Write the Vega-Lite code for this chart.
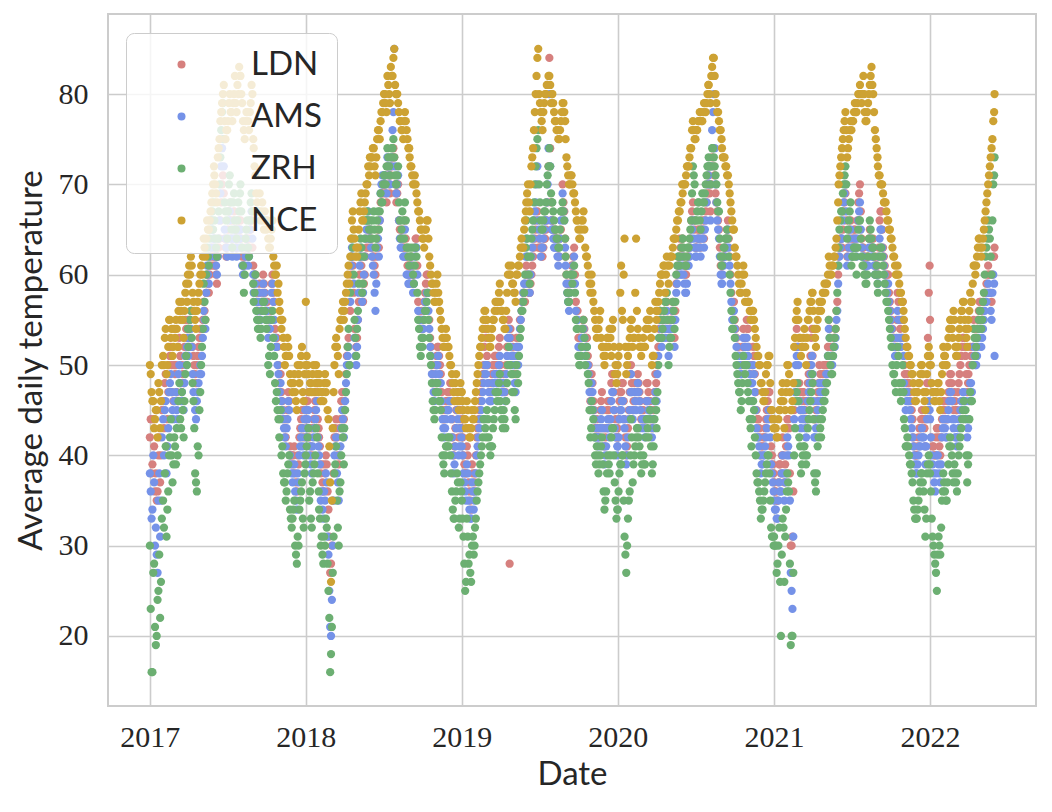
{
  "$schema": "https://vega.github.io/schema/vega-lite/v6.json",
  "width": 928,
  "height": 692,
  "autosize": {"type": "none"},
  "padding": {"left": 108, "top": 14, "right": 16, "bottom": 106},
  "config": {
    "view": {"stroke": "#cccccc", "strokeWidth": 2},
    "axis": {
      "grid": true,
      "gridColor": "#cccccc",
      "gridWidth": 1.6,
      "domain": false,
      "ticks": false,
      "labelFont": "Liberation Serif",
      "labelFontSize": 30,
      "labelColor": "#262626",
      "titleFont": "Lato",
      "titleFontSize": 33,
      "titleFontWeight": "normal",
      "titleColor": "#262626"
    }
  },
  "data": {
    "values": "d,LDN,AMS,ZRH,NCE\n2017-01-01,42,38,30,50\n2017-01-05,38,33,16,47\n2017-01-09,44,40,27,46\n2017-01-13,36,30,21,44\n2017-01-17,35,29,20,45\n2017-01-21,40,35,25,48\n2017-01-25,37,31,22,43\n2017-01-29,45,42,33,50\n2017-02-01,46,44,35,51\n2017-02-05,48,45,38,53\n2017-02-09,41,38,31,49\n2017-02-13,47,43,36,52\n2017-02-17,51,48,42,55\n2017-02-21,50,47,40,54\n2017-02-25,46,44,39,52\n2017-03-01,49,46,41,53\n2017-03-05,47,45,43,54\n2017-03-09,52,49,46,56\n2017-03-13,51,48,44,55\n2017-03-17,50,47,47,57\n2017-03-21,48,45,42,53\n2017-03-25,55,51,49,58\n2017-03-29,53,52,50,57\n2017-04-01,54,51,52,59\n2017-04-05,55,53,55,60\n2017-04-09,56,52,53,61\n2017-04-13,51,47,46,57\n2017-04-17,49,45,38,55\n2017-04-21,50,46,36,56\n2017-04-25,52,48,40,58\n2017-04-29,54,50,47,60\n2017-05-01,53,49,50,61\n2017-05-05,55,53,54,62\n2017-05-09,56,55,57,63\n2017-05-13,58,58,60,64\n2017-05-17,59,60,62,65\n2017-05-21,60,62,64,66\n2017-05-25,62,66,66,68\n2017-05-29,61,64,65,70\n2017-06-01,62,63,66,71\n2017-06-05,60,61,63,69\n2017-06-09,62,62,64,73\n2017-06-13,64,66,70,75\n2017-06-17,68,72,76,78\n2017-06-21,71,75,79,80\n2017-06-25,64,65,68,77\n2017-06-29,62,63,66,76\n2017-07-01,63,62,64,76\n2017-07-05,67,66,70,79\n2017-07-09,66,64,68,78\n2017-07-13,63,62,63,77\n2017-07-17,67,65,69,80\n2017-07-21,64,63,65,79\n2017-07-25,65,64,66,81\n2017-07-29,64,63,67,83\n2017-08-01,66,65,70,82\n2017-08-05,62,61,63,79\n2017-08-09,61,60,58,76\n2017-08-13,63,62,64,77\n2017-08-17,64,63,66,78\n2017-08-21,63,62,62,76\n2017-08-25,65,66,68,79\n2017-08-29,63,64,67,80\n2017-09-01,59,58,57,74\n2017-09-05,60,59,60,71\n2017-09-09,57,56,55,68\n2017-09-13,58,57,54,67\n2017-09-17,56,55,53,66\n2017-09-21,58,57,56,68\n2017-09-25,59,58,57,65\n2017-09-29,57,56,55,66\n2017-10-01,56,55,54,65\n2017-10-05,54,53,50,64\n2017-10-09,55,54,49,63\n2017-10-13,59,58,55,65\n2017-10-17,58,57,53,62\n2017-10-21,54,53,48,60\n2017-10-25,53,52,47,61\n2017-10-29,50,49,44,59\n2017-11-01,48,47,44,56\n2017-11-05,47,46,40,54\n2017-11-09,45,44,38,53\n2017-11-13,43,42,37,50\n2017-11-17,44,43,36,51\n2017-11-21,47,46,39,52\n2017-11-25,41,40,34,49\n2017-11-29,40,38,32,48\n2017-12-01,39,37,33,47\n2017-12-05,41,39,35,49\n2017-12-09,37,35,29,46\n2017-12-13,40,38,31,50\n2017-12-17,42,40,34,48\n2017-12-21,44,42,36,51\n2017-12-25,43,41,33,47\n2017-12-29,45,44,38,49\n2018-01-01,44,42,40,57\n2018-01-05,46,44,42,50\n2018-01-09,42,40,35,47\n2018-01-13,41,39,33,48\n2018-01-17,43,41,37,49\n2018-01-21,45,43,39,47\n2018-01-25,47,45,43,50\n2018-01-29,44,42,38,48\n2018-02-01,42,40,34,49\n2018-02-05,38,35,30,46\n2018-02-09,37,34,29,47\n2018-02-13,39,36,31,48\n2018-02-17,40,38,33,47\n2018-02-21,36,31,28,45\n2018-02-25,31,25,22,41\n2018-02-27,27,21,16,37\n2018-03-01,28,20,18,26\n2018-03-05,35,30,27,43\n2018-03-09,42,40,38,50\n2018-03-13,44,42,41,53\n2018-03-17,40,37,32,51\n2018-03-21,43,40,36,54\n2018-03-25,46,43,40,55\n2018-03-29,45,44,42,57\n2018-04-01,46,45,43,56\n2018-04-05,49,48,47,58\n2018-04-09,52,51,52,60\n2018-04-13,50,50,50,59\n2018-04-17,60,61,62,64\n2018-04-21,61,62,63,67\n2018-04-25,54,53,55,64\n2018-04-29,52,50,51,63\n2018-05-01,53,52,54,62\n2018-05-05,57,58,59,65\n2018-05-09,62,63,64,68\n2018-05-13,58,57,58,66\n2018-05-17,59,60,62,67\n2018-05-21,62,64,66,69\n2018-05-25,64,66,67,70\n2018-05-29,63,64,65,71\n2018-06-01,65,64,66,72\n2018-06-05,63,62,64,73\n2018-06-09,62,60,67,74\n2018-06-13,60,56,63,71\n2018-06-17,64,63,66,75\n2018-06-21,63,62,65,76\n2018-06-25,68,69,69,77\n2018-06-29,70,71,68,78\n2018-07-01,69,70,70,79\n2018-07-05,70,71,71,80\n2018-07-09,68,69,72,78\n2018-07-13,71,72,73,81\n2018-07-17,69,70,71,79\n2018-07-21,72,73,74,82\n2018-07-25,74,78,75,84\n2018-07-27,73,85,73,85\n2018-07-29,70,72,71,81\n2018-08-01,68,69,70,80\n2018-08-05,70,71,72,79\n2018-08-09,65,64,66,77\n2018-08-13,64,63,65,76\n2018-08-17,63,62,66,75\n2018-08-21,66,65,68,78\n2018-08-25,62,60,63,76\n2018-08-29,61,59,62,74\n2018-09-01,60,59,63,73\n2018-09-05,62,61,62,72\n2018-09-09,59,58,60,70\n2018-09-13,63,62,61,71\n2018-09-17,64,63,62,69\n2018-09-21,57,56,55,67\n2018-09-25,55,54,52,66\n2018-09-29,56,55,53,65\n2018-10-01,54,53,52,64\n2018-10-05,57,56,55,63\n2018-10-09,59,57,56,65\n2018-10-13,60,58,58,66\n2018-10-17,55,54,53,62\n2018-10-21,52,51,50,60\n2018-10-25,49,48,46,59\n2018-10-29,47,46,44,57\n2018-11-01,50,49,47,58\n2018-11-05,52,50,48,60\n2018-11-09,51,49,46,57\n2018-11-13,49,48,45,55\n2018-11-17,45,44,40,53\n2018-11-21,44,42,38,52\n2018-11-25,46,44,41,54\n2018-11-29,47,45,42,52\n2018-12-01,46,45,41,52\n2018-12-05,48,46,40,50\n2018-12-09,44,42,36,49\n2018-12-13,40,38,33,47\n2018-12-17,43,41,35,48\n2018-12-21,47,45,38,46\n2018-12-25,42,40,32,45\n2018-12-29,45,43,37,48\n2019-01-01,43,41,35,47\n2019-01-05,40,38,31,45\n2019-01-09,38,36,25,44\n2019-01-13,41,39,33,46\n2019-01-17,37,35,28,43\n2019-01-21,35,33,27,42\n2019-01-25,39,37,30,45\n2019-01-29,36,34,29,44\n2019-02-01,38,36,32,46\n2019-02-05,42,40,35,48\n2019-02-09,44,42,37,50\n2019-02-13,46,44,39,52\n2019-02-17,48,46,41,53\n2019-02-21,50,48,44,55\n2019-02-25,54,50,43,56\n2019-03-01,51,50,45,55\n2019-03-05,48,47,42,53\n2019-03-09,47,46,40,52\n2019-03-13,49,47,41,54\n2019-03-17,50,48,44,55\n2019-03-21,51,49,47,57\n2019-03-25,49,48,46,56\n2019-03-29,52,50,48,58\n2019-04-01,50,49,46,57\n2019-04-05,48,47,44,56\n2019-04-09,49,48,45,55\n2019-04-13,47,46,43,54\n2019-04-17,52,51,48,58\n2019-04-21,55,54,52,61\n2019-04-23,28,53,50,60\n2019-04-25,54,52,50,60\n2019-04-29,51,50,47,59\n2019-05-01,52,51,49,59\n2019-05-05,50,48,45,58\n2019-05-09,53,52,50,60\n2019-05-13,51,50,48,61\n2019-05-17,55,54,53,62\n2019-05-21,56,56,56,64\n2019-05-25,58,58,57,63\n2019-05-29,57,59,60,66\n2019-06-01,61,64,66,68\n2019-06-05,59,60,62,70\n2019-06-09,58,58,59,67\n2019-06-13,60,62,64,72\n2019-06-17,62,64,66,74\n2019-06-21,64,67,70,78\n2019-06-25,66,70,74,82\n2019-06-29,63,66,76,85\n2019-07-01,64,65,70,80\n2019-07-05,63,62,66,78\n2019-07-09,62,63,65,76\n2019-07-13,64,65,67,79\n2019-07-17,65,66,68,80\n2019-07-21,68,70,71,81\n2019-07-25,84,80,74,82\n2019-07-29,68,66,69,79\n2019-08-01,66,65,68,80\n2019-08-05,64,63,66,78\n2019-08-09,65,64,65,77\n2019-08-13,63,62,64,76\n2019-08-17,62,62,63,75\n2019-08-21,65,66,67,77\n2019-08-25,70,69,68,79\n2019-08-29,67,66,66,78\n2019-09-01,62,61,62,75\n2019-09-05,59,58,58,72\n2019-09-09,57,56,57,70\n2019-09-13,60,59,60,71\n2019-09-17,61,60,59,70\n2019-09-21,63,62,61,69\n2019-09-25,57,56,55,67\n2019-09-29,56,55,54,66\n2019-10-01,53,52,51,65\n2019-10-05,52,51,50,64\n2019-10-09,54,53,52,66\n2019-10-13,55,54,55,67\n2019-10-17,52,51,50,63\n2019-10-21,53,52,52,62\n2019-10-25,50,49,48,60\n2019-10-29,46,45,42,58\n2019-11-01,49,48,46,60\n2019-11-05,46,45,44,57\n2019-11-09,43,42,40,55\n2019-11-13,44,43,41,53\n2019-11-17,42,41,38,54\n2019-11-21,45,43,40,56\n2019-11-25,47,45,42,52\n2019-11-29,43,41,36,51\n2019-12-01,41,39,34,50\n2019-12-05,43,41,36,52\n2019-12-09,46,44,40,53\n2019-12-13,44,42,38,54\n2019-12-17,48,46,42,51\n2019-12-21,49,47,43,55\n2019-12-25,45,43,37,49\n2019-12-29,42,40,33,48\n2020-01-01,42,41,34,50\n2020-01-05,46,44,38,52\n2020-01-09,47,45,39,61\n2020-01-13,48,46,40,55\n2020-01-17,44,43,31,64\n2020-01-21,40,39,27,49\n2020-01-25,43,42,33,51\n2020-01-29,47,45,36,53\n2020-02-01,50,49,44,55\n2020-02-05,45,44,37,52\n2020-02-09,48,47,40,53\n2020-02-13,46,45,42,64\n2020-02-17,49,48,43,54\n2020-02-21,47,46,41,52\n2020-02-25,44,43,38,51\n2020-03-01,45,44,40,53\n2020-03-05,44,42,39,52\n2020-03-09,48,46,44,55\n2020-03-13,47,45,42,54\n2020-03-17,46,45,45,56\n2020-03-21,43,42,38,50\n2020-03-25,45,44,41,51\n2020-03-29,49,47,46,57\n2020-04-01,47,46,43,55\n2020-04-05,52,51,50,57\n2020-04-09,56,55,56,59\n2020-04-13,53,52,53,60\n2020-04-17,55,54,55,61\n2020-04-21,54,53,57,58\n2020-04-25,57,56,58,62\n2020-04-29,53,51,50,59\n2020-05-01,54,53,52,61\n2020-05-05,55,54,53,62\n2020-05-09,57,56,57,63\n2020-05-13,53,52,54,64\n2020-05-17,59,58,60,65\n2020-05-21,61,60,62,66\n2020-05-25,64,61,61,67\n2020-05-29,62,60,63,68\n2020-06-01,64,62,64,69\n2020-06-05,61,59,62,70\n2020-06-09,60,58,61,71\n2020-06-13,62,61,63,72\n2020-06-17,63,62,64,73\n2020-06-21,66,64,66,74\n2020-06-25,68,66,72,77\n2020-06-29,65,63,70,75\n2020-07-01,63,62,66,75\n2020-07-05,64,63,67,76\n2020-07-09,65,64,68,77\n2020-07-13,63,62,65,78\n2020-07-17,66,65,69,77\n2020-07-21,64,63,68,79\n2020-07-25,67,66,70,78\n2020-07-29,69,70,72,80\n2020-08-01,71,72,73,81\n2020-08-05,67,66,70,79\n2020-08-09,73,76,74,83\n2020-08-13,72,80,73,84\n2020-08-17,69,70,71,80\n2020-08-21,67,66,68,78\n2020-08-25,65,64,67,77\n2020-08-29,61,60,62,76\n2020-09-01,60,59,61,74\n2020-09-05,62,61,63,73\n2020-09-09,63,62,64,72\n2020-09-13,65,64,65,71\n2020-09-17,64,63,62,70\n2020-09-21,60,59,58,68\n2020-09-25,56,55,54,66\n2020-09-29,57,56,55,65\n2020-10-01,55,54,53,63\n2020-10-05,53,52,50,62\n2020-10-09,52,51,48,60\n2020-10-13,51,50,47,58\n2020-10-17,50,49,46,59\n2020-10-21,54,53,51,61\n2020-10-25,52,51,49,57\n2020-10-29,55,53,50,58\n2020-11-01,54,51,47,57\n2020-11-05,50,49,44,56\n2020-11-09,48,46,41,55\n2020-11-13,52,50,46,56\n2020-11-17,49,47,42,54\n2020-11-21,45,43,38,52\n2020-11-25,44,42,37,51\n2020-11-29,42,40,35,50\n2020-12-01,40,38,33,48\n2020-12-05,41,39,34,47\n2020-12-09,42,40,36,46\n2020-12-13,44,42,38,49\n2020-12-17,46,44,40,50\n2020-12-21,47,45,38,51\n2020-12-25,41,39,32,45\n2020-12-29,39,37,31,44\n2021-01-01,37,35,31,44\n2021-01-05,36,34,30,43\n2021-01-09,35,33,28,42\n2021-01-13,39,37,32,45\n2021-01-17,38,36,20,46\n2021-01-21,42,40,33,48\n2021-01-25,37,35,26,43\n2021-01-29,41,38,34,47\n2021-02-01,44,42,38,50\n2021-02-05,43,40,36,49\n2021-02-09,30,27,19,45\n2021-02-13,31,23,20,46\n2021-02-17,45,44,40,52\n2021-02-21,52,50,46,55\n2021-02-25,55,52,48,57\n2021-03-01,48,46,42,53\n2021-03-05,45,43,38,51\n2021-03-09,47,45,40,52\n2021-03-13,46,44,41,54\n2021-03-17,44,42,39,50\n2021-03-21,48,46,43,55\n2021-03-25,50,48,45,56\n2021-03-29,53,50,47,57\n2021-04-01,51,49,48,58\n2021-04-05,44,42,38,54\n2021-04-09,45,43,36,52\n2021-04-13,47,45,41,55\n2021-04-17,50,48,44,57\n2021-04-21,48,46,42,56\n2021-04-25,49,47,45,58\n2021-04-29,50,48,46,59\n2021-05-01,49,48,47,58\n2021-05-05,50,49,48,59\n2021-05-09,55,54,55,62\n2021-05-13,52,51,50,60\n2021-05-17,51,50,49,61\n2021-05-21,53,52,52,62\n2021-05-25,54,53,54,63\n2021-05-29,57,56,58,66\n2021-06-01,62,61,63,70\n2021-06-05,64,63,66,72\n2021-06-09,63,64,67,74\n2021-06-13,67,68,70,76\n2021-06-17,69,70,72,78\n2021-06-21,62,61,64,73\n2021-06-25,64,63,66,75\n2021-06-29,66,65,68,77\n2021-07-01,63,62,61,76\n2021-07-05,64,63,62,77\n2021-07-09,65,64,63,79\n2021-07-13,63,62,60,78\n2021-07-17,68,66,65,80\n2021-07-21,70,68,66,81\n2021-07-25,64,63,62,79\n2021-07-29,63,62,61,82\n2021-08-01,62,61,60,78\n2021-08-05,61,60,59,77\n2021-08-09,62,61,62,79\n2021-08-13,65,64,66,81\n2021-08-17,63,62,64,83\n2021-08-21,64,63,63,80\n2021-08-25,61,60,60,76\n2021-08-29,62,61,61,74\n2021-09-01,60,59,58,72\n2021-09-05,66,64,62,71\n2021-09-09,67,65,63,70\n2021-09-13,63,62,61,69\n2021-09-17,61,60,59,68\n2021-09-21,59,58,57,67\n2021-09-25,60,59,56,66\n2021-09-29,57,56,54,65\n2021-10-01,56,55,53,64\n2021-10-05,54,53,50,63\n2021-10-09,53,52,49,62\n2021-10-13,52,51,47,60\n2021-10-17,58,56,52,61\n2021-10-21,55,53,48,59\n2021-10-25,53,52,46,58\n2021-10-29,57,55,50,57\n2021-11-01,50,48,44,55\n2021-11-05,47,45,41,53\n2021-11-09,49,47,42,52\n2021-11-13,48,46,40,51\n2021-11-17,46,44,39,50\n2021-11-21,44,42,37,49\n2021-11-25,41,40,34,47\n2021-11-29,40,38,33,46\n2021-12-01,40,38,33,47\n2021-12-05,42,40,35,48\n2021-12-09,43,41,37,49\n2021-12-13,45,43,38,50\n2021-12-17,44,42,36,47\n2021-12-21,41,39,31,45\n2021-12-25,48,44,38,49\n2021-12-29,58,46,40,52\n2021-12-31,61,45,39,50\n2022-01-01,55,44,38,51\n2022-01-05,42,40,33,48\n2022-01-09,41,38,30,47\n2022-01-13,40,36,28,46\n2022-01-17,43,40,25,47\n2022-01-21,42,39,31,48\n2022-01-25,40,37,29,45\n2022-01-29,44,42,35,49\n2022-02-01,46,44,38,52\n2022-02-05,45,43,36,51\n2022-02-09,44,42,35,50\n2022-02-13,47,45,39,53\n2022-02-17,49,47,42,55\n2022-02-21,48,46,40,54\n2022-02-25,45,43,37,56\n2022-03-01,46,42,38,52\n2022-03-05,45,41,36,51\n2022-03-09,48,43,40,53\n2022-03-13,50,45,42,55\n2022-03-17,52,46,44,56\n2022-03-21,53,47,46,57\n2022-03-25,51,46,45,54\n2022-03-29,47,42,37,52\n2022-04-01,49,44,40,55\n2022-04-05,52,48,47,58\n2022-04-09,50,47,46,57\n2022-04-13,55,52,54,61\n2022-04-17,53,50,51,60\n2022-04-21,54,51,53,62\n2022-04-25,56,53,55,64\n2022-04-29,57,54,56,63\n2022-05-01,55,52,54,62\n2022-05-05,56,54,57,64\n2022-05-09,58,56,60,66\n2022-05-13,59,57,63,68\n2022-05-17,61,59,66,70\n2022-05-21,60,58,64,72\n2022-05-25,57,55,60,74\n2022-05-29,62,60,70,77\n2022-06-01,63,51,73,80\n2017-01-03,44,36,23,49\n2017-01-07,39,34,16,46\n2017-01-11,41,37,28,43\n2017-01-15,38,32,19,45\n2017-01-19,36,27,24,42\n2017-01-23,42,38,29,47\n2017-01-27,40,35,26,46\n2017-02-03,43,40,32,50\n2017-02-07,49,46,41,54\n2017-02-11,44,41,34,50\n2017-02-15,50,47,40,55\n2017-02-19,52,49,44,53\n2017-02-23,47,45,37,51\n2017-02-27,50,46,42,54\n2017-03-03,50,47,39,55\n2017-03-07,46,44,40,52\n2017-03-11,53,50,48,57\n2017-03-15,48,46,43,56\n2017-03-19,49,46,45,55\n2017-03-23,52,48,46,56\n2017-03-27,54,50,51,59\n2017-03-31,55,53,54,60\n2017-04-03,53,52,54,61\n2017-04-07,56,54,56,62\n2017-04-11,52,49,48,58\n2017-04-15,50,46,43,56\n2017-04-19,48,44,37,54\n2017-04-23,51,47,41,57\n2017-04-27,53,49,45,59\n2017-05-03,54,51,52,60\n2017-05-07,57,56,59,64\n2017-05-11,55,54,55,62\n2017-05-15,60,61,63,66\n2017-05-19,58,59,61,65\n2017-05-23,61,63,65,67\n2017-05-27,63,65,67,69\n2017-05-31,62,64,68,72\n2017-06-03,61,62,64,70\n2017-06-07,59,60,62,68\n2017-06-11,63,64,67,74\n2017-06-15,66,69,73,77\n2017-06-19,70,74,78,79\n2017-06-23,69,72,75,81\n2017-06-27,63,64,67,75\n2017-07-03,65,64,67,77\n2017-07-07,68,67,71,80\n2017-07-11,64,63,65,78\n2017-07-15,66,64,68,79\n2017-07-19,65,64,66,82\n2017-07-23,63,62,64,78\n2017-07-27,66,65,68,80\n2017-07-31,65,64,69,82\n2017-08-03,64,63,67,80\n2017-08-07,61,60,61,77\n2017-08-11,62,61,60,75\n2017-08-15,64,64,65,78\n2017-08-19,62,61,63,77\n2017-08-23,64,65,66,78\n2017-08-27,66,67,69,81\n2017-08-31,61,60,59,75\n2017-09-03,60,60,58,72\n2017-09-07,58,57,56,69\n2017-09-11,56,55,54,67\n2017-09-15,59,58,55,69\n2017-09-19,57,56,54,67\n2017-09-23,60,59,57,66\n2017-09-27,58,57,56,67\n2017-10-03,57,56,55,66\n2017-10-07,55,54,51,63\n2017-10-11,56,55,52,64\n2017-10-15,60,59,56,66\n2017-10-19,57,55,51,61\n2017-10-23,53,52,46,60\n2017-10-27,52,50,45,58\n2017-10-31,49,47,42,57\n2017-11-03,49,48,45,55\n2017-11-07,46,45,41,55\n2017-11-11,44,43,37,52\n2017-11-15,42,41,35,51\n2017-11-19,45,44,38,53\n2017-11-23,46,45,40,51\n2017-11-27,40,39,33,48\n2017-12-03,40,38,34,48\n2017-12-07,38,36,30,47\n2017-12-11,36,34,28,45\n2017-12-15,39,37,30,49\n2017-12-19,43,41,35,50\n2017-12-23,45,43,37,52\n2017-12-27,42,40,32,46\n2017-12-31,46,45,39,50\n2018-01-03,45,43,41,51\n2018-01-07,47,45,43,49\n2018-01-11,43,41,36,48\n2018-01-15,40,38,32,47\n2018-01-19,44,42,38,50\n2018-01-23,46,44,40,48\n2018-01-27,48,46,42,49\n2018-01-31,43,41,36,47\n2018-02-03,41,39,33,48\n2018-02-07,39,36,31,47\n2018-02-11,36,33,28,46\n2018-02-15,38,35,30,49\n2018-02-19,39,37,32,48\n2018-02-23,34,29,25,44\n2018-03-03,30,24,21,35\n2018-03-07,38,35,31,47\n2018-03-11,43,41,39,52\n2018-03-15,42,38,35,52\n2018-03-19,39,35,30,49\n2018-03-23,44,41,37,55\n2018-03-27,47,45,43,56\n2018-03-31,44,42,39,55\n2018-04-03,47,46,45,57\n2018-04-07,51,50,49,59\n2018-04-11,53,52,54,61\n2018-04-15,56,57,58,62\n2018-04-19,62,63,64,66\n2018-04-23,58,59,60,65\n2018-04-27,53,51,53,62\n2018-05-03,55,55,56,63\n2018-05-07,60,61,62,67\n2018-05-11,61,62,63,69\n2018-05-15,57,58,59,66\n2018-05-19,60,62,64,68\n2018-05-23,63,65,66,70\n2018-05-27,65,67,66,72\n2018-05-31,64,65,64,73\n2018-06-03,64,63,65,73\n2018-06-07,62,61,66,74\n2018-06-11,61,58,65,72\n2018-06-15,62,59,64,73\n2018-06-19,65,64,67,76\n2018-06-23,66,66,67,75\n2018-06-27,69,70,68,78\n2018-07-03,70,71,71,80\n2018-07-07,69,70,70,79\n2018-07-11,72,73,74,82\n2018-07-15,70,71,72,80\n2018-07-19,71,72,73,83\n2018-07-23,73,76,74,82\n2018-07-31,69,70,70,80\n2018-08-03,69,70,71,80\n2018-08-07,66,66,68,78\n2018-08-11,64,63,64,77\n2018-08-15,65,64,67,76\n2018-08-19,63,62,64,77\n2018-08-23,64,62,66,77\n2018-08-27,61,60,63,75\n2018-08-31,60,59,61,74\n2018-09-03,61,60,62,72\n2018-09-07,61,60,63,71\n2018-09-11,60,59,59,70\n2018-09-15,64,63,63,70\n2018-09-19,61,60,58,68\n2018-09-23,56,55,54,67\n2018-09-27,55,54,51,65\n2018-10-03,55,54,53,64\n2018-10-07,58,57,56,65\n2018-10-11,60,58,57,66\n2018-10-15,58,56,55,64\n2018-10-19,53,52,51,61\n2018-10-23,50,49,48,59\n2018-10-27,48,47,45,58\n2018-10-31,48,47,45,57\n2018-11-03,51,50,48,59\n2018-11-07,52,51,47,58\n2018-11-11,50,48,46,56\n2018-11-15,47,46,42,54\n2018-11-19,44,43,39,52\n2018-11-23,45,43,40,53\n2018-11-27,46,45,41,53\n2018-12-03,47,46,42,51\n2018-12-07,46,44,38,50\n2018-12-11,42,40,34,48\n2018-12-15,41,39,33,46\n2018-12-19,45,43,36,49\n2018-12-23,46,44,37,47\n2018-12-27,43,41,33,46\n2018-12-31,44,42,36,47\n2019-01-03,42,40,33,46\n2019-01-07,39,37,28,44\n2019-01-11,38,35,26,43\n2019-01-15,40,38,31,45\n2019-01-19,36,34,29,42\n2019-01-23,34,33,26,43\n2019-01-27,38,36,31,44\n2019-01-31,37,35,30,45\n2019-02-03,40,38,33,47\n2019-02-07,43,41,36,49\n2019-02-11,45,43,38,51\n2019-02-15,47,45,40,52\n2019-02-19,49,47,42,54\n2019-02-23,52,49,44,56\n2019-02-27,53,49,42,55\n2019-03-03,50,48,44,54\n2019-03-07,47,46,41,52\n2019-03-11,48,46,41,53\n2019-03-15,50,48,43,55\n2019-03-19,51,49,45,56\n2019-03-23,50,48,47,57\n2019-03-27,51,49,47,57\n2019-03-31,53,51,49,59\n2019-04-03,49,48,45,56\n2019-04-07,48,47,43,55\n2019-04-11,48,47,44,54\n2019-04-15,50,49,46,56\n2019-04-19,54,53,50,60\n2019-04-27,53,51,49,61\n2019-05-03,51,50,47,58\n2019-05-07,49,47,44,57\n2019-05-11,52,51,49,60\n2019-05-15,53,52,51,61\n2019-05-19,55,55,54,63\n2019-05-23,57,57,56,63\n2019-05-27,58,59,58,65\n2019-05-31,60,62,63,67\n2019-06-03,60,62,64,69\n2019-06-07,58,59,60,68\n2019-06-11,59,60,62,70\n2019-06-15,61,63,65,73\n2019-06-19,63,66,68,76\n2019-06-23,65,68,72,80\n2019-06-27,67,72,75,84\n2019-07-03,63,64,68,79\n2019-07-07,62,63,65,77\n2019-07-11,63,64,66,78\n2019-07-15,64,66,67,80\n2019-07-19,66,68,70,81\n2019-07-23,72,74,72,82\n2019-07-27,74,72,72,81\n2019-07-31,66,65,68,80\n2019-08-03,65,64,67,79\n2019-08-07,64,63,65,77\n2019-08-11,64,63,64,76\n2019-08-15,62,61,63,75\n2019-08-19,64,64,65,76\n2019-08-23,67,67,67,78\n2019-08-27,68,67,67,79\n2019-08-31,64,63,64,77\n2019-09-03,60,59,60,73\n2019-09-07,58,57,57,71\n2019-09-11,59,58,58,70\n2019-09-15,61,60,60,71\n2019-09-19,62,61,60,69\n2019-09-23,60,59,58,68\n2019-09-27,56,55,54,66\n2019-10-03,53,52,50,64\n2019-10-07,53,52,51,65\n2019-10-11,55,54,54,66\n2019-10-15,54,53,53,65\n2019-10-19,53,52,51,62\n2019-10-23,51,50,49,61\n2019-10-27,48,47,45,59\n2019-10-31,47,46,43,59\n2019-11-03,48,47,45,58\n2019-11-07,45,44,42,56\n2019-11-11,43,42,39,54\n2019-11-15,43,42,40,54\n2019-11-19,43,42,39,55\n2019-11-23,46,44,41,53\n2019-11-27,45,43,39,52\n2019-12-03,42,40,35,51\n2019-12-07,45,43,38,53\n2019-12-11,45,43,39,52\n2019-12-15,46,44,40,53\n2019-12-19,49,47,43,54\n2019-12-23,47,45,40,52\n2019-12-27,44,42,35,50\n2019-12-31,43,41,34,49\n2020-01-03,44,42,36,51\n2020-01-07,47,45,39,58\n2020-01-11,48,46,40,56\n2020-01-15,46,44,35,60\n2020-01-19,42,41,29,52\n2020-01-23,41,40,30,50\n2020-01-27,45,44,35,52\n2020-01-31,49,47,40,54\n2020-02-03,48,47,42,55\n2020-02-07,46,45,39,53\n2020-02-11,47,46,41,58\n2020-02-15,48,47,43,56\n2020-02-19,48,47,42,53\n2020-02-23,46,45,40,52\n2020-02-27,45,44,39,52\n2020-03-03,44,43,39,52\n2020-03-07,46,44,42,54\n2020-03-11,48,46,43,55\n2020-03-15,46,45,44,55\n2020-03-19,45,44,41,53\n2020-03-23,44,43,39,51\n2020-03-27,47,46,44,54\n2020-03-31,48,47,45,56\n2020-04-03,50,49,47,56\n2020-04-07,54,53,53,58\n2020-04-11,55,54,55,60\n2020-04-15,54,53,54,60\n2020-04-19,56,55,56,61\n2020-04-23,55,54,57,60\n2020-04-27,55,54,55,61\n2020-05-03,55,54,53,62\n2020-05-07,56,55,55,62\n2020-05-11,55,54,56,64\n2020-05-15,56,55,57,64\n2020-05-19,60,59,61,66\n2020-05-23,62,61,62,67\n2020-05-27,63,60,62,68\n2020-05-31,63,61,64,70\n2020-06-03,62,60,63,70\n2020-06-07,60,58,61,70\n2020-06-11,61,59,62,72\n2020-06-15,62,61,63,72\n2020-06-19,64,63,65,74\n2020-06-23,67,65,69,76\n2020-06-27,66,64,71,76\n2020-07-03,63,62,66,76\n2020-07-07,65,64,68,77\n2020-07-11,64,63,66,78\n2020-07-15,65,64,67,77\n2020-07-19,65,64,68,78\n2020-07-23,66,65,69,79\n2020-07-27,68,68,71,79\n2020-07-31,70,71,72,81\n2020-08-03,69,70,72,80\n2020-08-07,70,72,72,82\n2020-08-11,74,78,74,84\n2020-08-15,71,74,72,82\n2020-08-19,68,68,70,79\n2020-08-23,66,65,67,78\n2020-08-27,63,62,64,76\n2020-08-31,60,59,61,75\n2020-09-03,61,60,62,73\n2020-09-07,62,62,63,73\n2020-09-11,64,63,64,72\n2020-09-15,66,65,64,71\n2020-09-19,62,61,60,69\n2020-09-23,58,57,56,67\n2020-09-27,56,55,54,65\n2020-10-03,54,53,51,62\n2020-10-07,52,51,49,61\n2020-10-11,51,50,47,59\n2020-10-15,50,49,45,58\n2020-10-19,52,51,48,60\n2020-10-23,53,52,50,60\n2020-10-27,53,52,50,58\n2020-10-31,54,52,48,57\n2020-11-03,52,50,46,57\n2020-11-07,49,48,43,55\n2020-11-11,50,48,44,56\n2020-11-15,51,49,45,55\n2020-11-19,47,45,40,53\n2020-11-23,44,42,37,51\n2020-11-27,43,41,36,50\n2020-12-03,41,39,34,48\n2020-12-07,42,40,35,46\n2020-12-11,43,41,37,47\n2020-12-15,45,43,39,50\n2020-12-19,47,45,40,51\n2020-12-23,44,42,35,48\n2020-12-27,40,38,31,45\n2020-12-31,38,36,30,43\n2021-01-03,36,34,30,43\n2021-01-07,35,33,27,42\n2021-01-11,37,35,30,44\n2021-01-15,39,36,26,45\n2021-01-19,40,38,29,47\n2021-01-23,40,38,32,46\n2021-01-27,39,37,31,45\n2021-01-31,43,40,36,48\n2021-02-03,44,41,37,50\n2021-02-07,38,35,28,47\n2021-02-11,30,25,20,45\n2021-02-15,36,31,27,48\n2021-02-19,48,47,43,53\n2021-02-23,54,51,47,56\n2021-02-27,52,50,46,55\n2021-03-03,47,45,41,53\n2021-03-07,46,44,39,52\n2021-03-11,47,45,41,53\n2021-03-15,45,43,40,52\n2021-03-19,46,44,40,53\n2021-03-23,49,47,44,55\n2021-03-27,51,49,46,57\n2021-03-31,54,51,49,58\n2021-04-03,48,46,44,56\n2021-04-07,44,42,37,53\n2021-04-11,46,44,38,54\n2021-04-15,48,46,42,56\n2021-04-19,49,47,43,57\n2021-04-23,48,46,44,57\n2021-04-27,50,48,46,58\n2021-05-03,50,49,48,59\n2021-05-07,52,51,51,60\n2021-05-11,54,53,53,61\n2021-05-15,51,50,49,60\n2021-05-19,52,51,51,61\n2021-05-23,53,52,53,62\n2021-05-27,56,55,56,64\n2021-05-31,60,59,61,68\n2021-06-03,63,62,65,71\n2021-06-07,64,64,67,73\n2021-06-11,65,66,69,75\n2021-06-15,68,69,71,77\n2021-06-19,66,67,70,76\n2021-06-23,63,62,65,74\n2021-06-27,65,64,67,76\n2021-07-03,64,63,62,77\n2021-07-07,65,63,63,78\n2021-07-11,64,63,62,78\n2021-07-15,66,64,63,79\n2021-07-19,69,67,66,80\n2021-07-23,67,65,64,80\n2021-07-27,63,62,61,80\n2021-07-31,62,61,60,80\n2021-08-03,61,60,59,77\n2021-08-07,62,61,60,78\n2021-08-11,64,63,64,80\n2021-08-15,64,63,65,82\n2021-08-19,63,62,63,81\n2021-08-23,62,61,62,78\n2021-08-27,61,60,60,75\n2021-08-31,61,60,59,73\n2021-09-03,63,62,60,71\n2021-09-07,67,65,63,70\n2021-09-11,65,63,62,70\n2021-09-15,62,61,60,68\n2021-09-19,60,59,58,68\n2021-09-23,60,58,57,66\n2021-09-27,58,57,55,65\n2021-10-03,55,54,52,64\n2021-10-07,53,52,49,62\n2021-10-11,52,51,48,61\n2021-10-15,55,53,50,60\n2021-10-19,57,55,51,60\n2021-10-23,54,52,47,58\n2021-10-27,55,53,48,57\n2021-10-31,53,51,47,56\n2021-11-03,49,47,43,54\n2021-11-07,48,46,41,52\n2021-11-11,48,46,41,51\n2021-11-15,47,45,39,50\n2021-11-19,45,43,38,49\n2021-11-23,42,41,35,48\n2021-11-27,40,39,33,46\n2021-12-03,41,39,34,47\n2021-12-07,43,41,36,48\n2021-12-11,44,42,38,50\n2021-12-15,44,42,37,49\n2021-12-19,43,41,34,46\n2021-12-23,44,41,33,47\n2021-12-27,53,45,39,51\n2022-01-03,48,42,36,50\n2022-01-07,41,39,31,47\n2022-01-11,40,37,29,46\n2022-01-15,42,38,27,47\n2022-01-19,43,40,29,48\n2022-01-23,41,38,30,46\n2022-01-27,42,39,32,47\n2022-01-31,45,43,36,50\n2022-02-03,46,44,37,51\n2022-02-07,44,42,35,50\n2022-02-11,46,44,37,52\n2022-02-15,48,46,41,54\n2022-02-19,49,47,41,55\n2022-02-23,46,44,38,53\n2022-02-27,47,44,39,55\n2022-03-03,45,42,37,51\n2022-03-07,47,42,38,52\n2022-03-11,49,44,41,54\n2022-03-15,51,46,43,56\n2022-03-19,53,47,45,57\n2022-03-23,52,46,44,55\n2022-03-27,49,44,40,53\n2022-03-31,48,43,39,54\n2022-04-03,50,46,44,56\n2022-04-07,51,48,46,57\n2022-04-11,52,50,50,59\n2022-04-15,54,51,53,61\n2022-04-19,53,50,52,61\n2022-04-23,55,52,54,63\n2022-04-27,57,54,56,64\n2022-05-03,55,53,55,63\n2022-05-07,57,55,58,65\n2022-05-11,58,57,62,67\n2022-05-15,60,58,64,69\n2022-05-19,60,58,65,71\n2022-05-23,58,56,62,73\n2022-05-27,60,58,66,75\n2022-05-31,62,59,71,78",
    "format": {
      "type": "csv",
      "parse": {"d": "date", "LDN": "number", "AMS": "number", "ZRH": "number", "NCE": "number"}
    }
  },
  "transform": [
    {"fold": ["LDN", "AMS", "ZRH", "NCE"], "as": ["city", "temp"]}
  ],
  "encoding": {
    "x": {
      "field": "d",
      "type": "temporal",
      "title": "Date",
      "scale": {
        "domain": [
          {"year": 2016, "month": 9, "date": 25},
          {"year": 2022, "month": 9, "date": 6}
        ]
      },
      "axis": {"tickCount": "year", "format": "%Y", "labelPadding": 16, "titlePadding": 6, "labelFlush": false}
    },
    "y": {
      "field": "temp",
      "type": "quantitative",
      "title": "Average daily temperature",
      "scale": {"domain": [12.25, 88.86], "nice": false, "zero": false},
      "axis": {"values": [20, 30, 40, 50, 60, 70, 80], "labelPadding": 20, "titlePadding": 10}
    },
    "color": {
      "field": "city",
      "type": "nominal",
      "scale": {
        "domain": ["LDN", "AMS", "ZRH", "NCE"],
        "range": ["#d6807e", "#7592e8", "#6caf72", "#cda233"]
      },
      "legend": {
        "title": null,
        "orient": "none",
        "legendX": 18,
        "legendY": 19,
        "padding": 15,
        "fillColor": "rgba(255,255,255,0.8)",
        "strokeColor": "#cccccc",
        "cornerRadius": 8,
        "symbolType": "circle",
        "symbolSize": 64,
        "symbolOpacity": 1,
        "symbolStrokeWidth": 0,
        "symbolOffset": 24,
        "labelOffset": 53,
        "labelFont": "Lato",
        "labelFontSize": 33,
        "labelColor": "#262626",
        "rowPadding": 18
      }
    }
  },
  "layer": [
    {
      "transform": [{"filter": "datum.city == 'LDN'"}],
      "mark": {"type": "circle", "size": 68, "opacity": 1}
    },
    {
      "transform": [{"filter": "datum.city == 'AMS'"}],
      "mark": {"type": "circle", "size": 68, "opacity": 1}
    },
    {
      "transform": [{"filter": "datum.city == 'ZRH'"}],
      "mark": {"type": "circle", "size": 68, "opacity": 1}
    },
    {
      "transform": [{"filter": "datum.city == 'NCE'"}],
      "mark": {"type": "circle", "size": 68, "opacity": 1}
    }
  ]
}
